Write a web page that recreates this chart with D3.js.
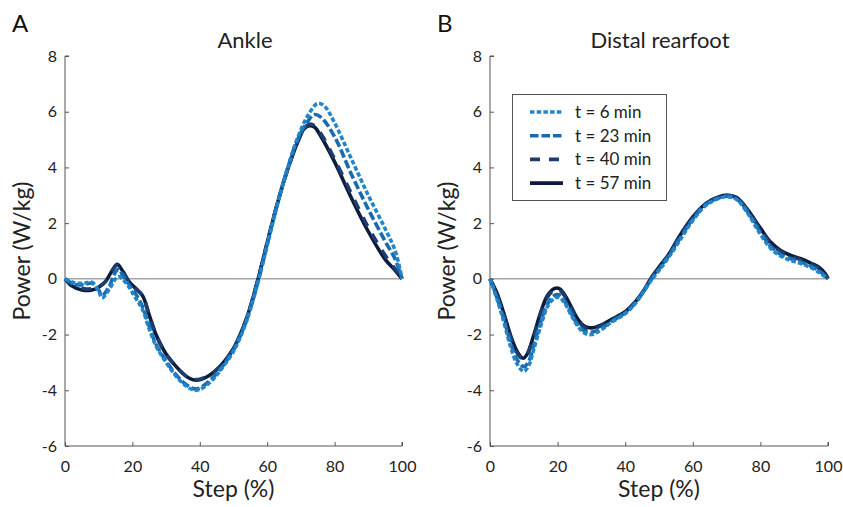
<!DOCTYPE html>
<html>
<head>
<meta charset="utf-8">
<script src="https://cdn.jsdelivr.net/npm/d3@7"></script>
<style>
body{margin:0;background:#fff;}
svg{display:block;font-family:Lato,"Open Sans",sans-serif;}
</style>
</head>
<body>
<svg id="chart" width="843" height="507"></svg>
<script>
const seriesNames = ["t = 6 min","t = 23 min","t = 40 min","t = 57 min"];
const seriesColors = ["#2185cb","#1a6aae","#1d3d6e","#0d1b3d"];
const seriesDash = ["4.5,2.2","8.5,3","10,9",null];
const xTicks = [0,20,40,60,80,100];
const yTicks = [-6,-4,-2,0,2,4,6,8];
const panelTitles = ["Ankle","Distal rearfoot"];
const panelLetters = ["A","B"];

// Ankle panel values [step %, power W/kg]
const ankle6 = [[0,0],[3,-0.15],[6,-0.15],[8,-0.12],[10,-0.45],[11,-0.68],[13,-0.4],[15,0],[16,0.08],[17,0],[19,-0.3],[21,-0.7],[23,-1.1],[25,-1.8],[27,-2.4],[30,-3.0],[33,-3.5],[36,-3.85],[38.5,-4.0],[40,-3.97],[43,-3.72],[46,-3.3],[50,-2.6],[53,-1.8],[55,-1.1],[57.5,0],[60,1.2],[63,2.65],[66,3.95],[69,5.05],[72,5.85],[75,6.3],[77,6.2],[80,5.6],[85,4.3],[90,3.0],[95,1.8],[98,1.0],[100,0]];
const ankle23 = [[0,0],[3,-0.2],[6,-0.2],[8,-0.15],[10,-0.4],[11,-0.6],[13,-0.3],[15,0.25],[16,0.35],[17,0.15],[19,-0.2],[21,-0.55],[23,-1.0],[25,-1.7],[27,-2.35],[30,-2.95],[33,-3.45],[36,-3.8],[38.5,-3.95],[40,-3.92],[43,-3.65],[46,-3.25],[50,-2.55],[53,-1.75],[55,-1.05],[57.5,0],[60,1.25],[63,2.7],[66,3.95],[69,5.0],[72,5.65],[74,5.9],[76,5.8],[80,5.1],[85,3.75],[90,2.5],[95,1.35],[98,0.7],[100,0]];
const ankle40 = [[0,0],[2,-0.2],[5,-0.35],[8,-0.35],[10,-0.28],[12,-0.1],[14,0.3],[15.5,0.5],[17,0.3],[19,-0.1],[21,-0.35],[23,-0.6],[25,-1.3],[27,-2.0],[30,-2.7],[33,-3.15],[36,-3.5],[38,-3.6],[40,-3.6],[43,-3.45],[46,-3.15],[50,-2.5],[53,-1.7],[55,-1.0],[57.3,0],[60,1.3],[63,2.7],[66,3.9],[69,4.9],[71,5.4],[72.5,5.55],[74,5.5],[76,5.2],[80,4.3],[85,3.05],[90,1.85],[95,0.85],[98,0.35],[100,0]];
const ankle57 = [[0,0],[2,-0.25],[5,-0.4],[8,-0.4],[10,-0.3],[12,-0.1],[14,0.3],[15.5,0.52],[17,0.3],[19,-0.1],[21,-0.35],[23,-0.6],[25,-1.3],[27,-2.0],[30,-2.7],[33,-3.15],[36,-3.5],[38,-3.62],[40,-3.62],[43,-3.45],[46,-3.15],[50,-2.5],[53,-1.7],[55,-1.0],[57.3,0],[60,1.3],[63,2.7],[66,3.9],[69,4.9],[71,5.4],[72.5,5.5],[74,5.45],[76,5.1],[80,4.2],[85,2.9],[90,1.7],[95,0.7],[98,0.3],[100,0]];

// Distal rearfoot panel values [step %, power W/kg]
const rear6 = [[0,0],[2,-0.7],[4,-1.5],[6,-2.4],[8,-3.05],[10,-3.32],[11.5,-3.1],[13,-2.5],[15,-1.7],[17,-1.0],[19,-0.7],[20.5,-0.67],[22,-0.85],[24,-1.3],[26,-1.7],[28,-1.95],[30,-2.0],[33,-1.82],[36,-1.55],[40,-1.25],[43,-0.88],[45.5,-0.45],[48,0],[50.5,0.38],[53,0.8],[56,1.35],[60,2.1],[64,2.65],[68,2.9],[70,2.95],[73,2.85],[76,2.4],[80,1.6],[83,1.1],[86,0.82],[89,0.66],[92,0.55],[95,0.4],[97.5,0.22],[100,0]];
const rear23 = [[0,0],[2,-0.65],[4,-1.4],[6,-2.25],[8,-2.9],[10,-3.15],[11.5,-2.95],[13,-2.35],[15,-1.55],[17,-0.9],[19,-0.6],[20.5,-0.58],[22,-0.78],[24,-1.22],[26,-1.65],[28,-1.88],[30,-1.92],[33,-1.78],[36,-1.52],[40,-1.22],[43,-0.86],[45.5,-0.44],[47.8,0],[50.3,0.4],[53,0.85],[56,1.42],[60,2.15],[64,2.68],[68,2.92],[70,2.97],[73,2.87],[76,2.45],[80,1.68],[83,1.18],[86,0.88],[89,0.72],[92,0.6],[95,0.45],[97.5,0.28],[100,0]];
const rear40 = [[0,0],[2,-0.55],[4,-1.25],[6,-2.05],[8,-2.65],[9.8,-2.88],[11,-2.72],[13,-2.05],[15,-1.25],[17,-0.65],[19,-0.4],[20.5,-0.4],[22,-0.6],[24,-1.05],[26,-1.5],[28,-1.75],[30,-1.8],[33,-1.68],[36,-1.47],[40,-1.2],[43,-0.83],[45.5,-0.42],[47.6,0],[50,0.4],[53,0.88],[56,1.5],[60,2.2],[64,2.7],[68,2.95],[70,3.0],[73,2.9],[76,2.5],[80,1.78],[83,1.28],[86,0.98],[89,0.8],[92,0.68],[95,0.52],[97.5,0.36],[99.2,0.15],[100,0]];
const rear57 = [[0,0],[2,-0.5],[4,-1.2],[6,-2.0],[8,-2.6],[9.8,-2.85],[11,-2.7],[13,-2.0],[15,-1.2],[17,-0.6],[19,-0.35],[20.5,-0.35],[22,-0.55],[24,-1.0],[26,-1.45],[28,-1.7],[30,-1.76],[33,-1.65],[36,-1.45],[40,-1.18],[43,-0.82],[45.5,-0.42],[47.5,0],[50,0.42],[53,0.9],[56,1.52],[60,2.22],[64,2.72],[68,2.96],[70,3.0],[73,2.92],[76,2.52],[80,1.82],[83,1.32],[86,1.02],[89,0.84],[92,0.72],[95,0.56],[97.5,0.4],[99.2,0.18],[100,0]];

const panelData = [[ankle6,ankle23,ankle40,ankle57],[rear6,rear23,rear40,rear57]];

const svg = d3.select("#chart");
const panels = [{x0:65,x1:402},{x0:490,x1:828}];
const yTop = 56, yBot = 446;
const fmt = d => String(d);

panels.forEach((p,pi)=>{
  const x = d3.scaleLinear().domain([0,100]).range([p.x0,p.x1]);
  const y = d3.scaleLinear().domain([-6,8]).range([yBot,yTop]);
  const g = svg.append("g");

  const yAx = g.append("g").attr("transform",`translate(${p.x0},0)`)
    .call(d3.axisRight(y).tickValues(yTicks).tickSize(4).tickFormat(fmt));
  yAx.select(".domain").attr("stroke","#555").attr("d",`M4,${yTop}H0V${yBot}`);
  yAx.selectAll(".tick line").attr("stroke","#555");
  yAx.selectAll(".tick text").attr("x",-8).attr("text-anchor","end").attr("font-size",16).attr("fill","#222")
    .attr("font-family","Lato,sans-serif");

  const xAx = g.append("g").attr("transform",`translate(0,${yBot})`)
    .call(d3.axisTop(x).tickValues(xTicks).tickSize(4).tickFormat(fmt));
  xAx.select(".domain").attr("stroke","#555").attr("d",`M${p.x0},0H${p.x1}V-4`);
  xAx.selectAll(".tick line").attr("stroke","#555");
  xAx.selectAll(".tick text").attr("y",21).attr("dy","0.32em").attr("font-size",16).attr("fill","#222")
    .attr("font-family","Lato,sans-serif");

  g.append("line").attr("x1",x(0)).attr("x2",x(100)).attr("y1",y(0)).attr("y2",y(0))
    .attr("stroke","#777").attr("stroke-width",1);

  const line = d3.line().x(d=>x(d[0])).y(d=>y(d[1])).curve(d3.curveCatmullRom.alpha(0.5));
  [3,2,1,0].forEach(si=>{
    g.append("path").datum(panelData[pi][si])
      .attr("d",line).attr("fill","none")
      .attr("stroke",seriesColors[si]).attr("stroke-width",3.6)
      .attr("stroke-dasharray",seriesDash[si]);
  });

  g.append("text").attr("x",(p.x0+p.x1)/2).attr("y",497).attr("text-anchor","middle")
    .attr("font-size",23).attr("fill","#222").text("Step (%)");
  g.append("text").attr("transform",`translate(${p.x0-43},${(yTop+yBot)/2}) rotate(-90)`)
    .attr("text-anchor","middle").attr("dy","0.35em").attr("font-size",23).attr("fill","#222").text("Power (W/kg)");
  g.append("text").attr("x",pi===0?245:660).attr("y",48).attr("text-anchor","middle")
    .attr("font-size",22).attr("fill","#222").text(panelTitles[pi]);
  g.append("text").attr("x",p.x0-53).attr("y",32).attr("font-size",24).attr("fill","#111").text(panelLetters[pi]);
});

const lg = svg.append("g");
lg.append("rect").attr("x",512.5).attr("y",94.5).attr("width",154).attr("height",106)
  .attr("fill","#fff").attr("stroke","#555").attr("stroke-width",1);
seriesNames.forEach((n,i)=>{
  const yy = 112 + i*23.7;
  lg.append("line").attr("x1",530).attr("x2",563).attr("y1",yy).attr("y2",yy)
    .attr("stroke",seriesColors[i]).attr("stroke-width",3.6).attr("stroke-dasharray",seriesDash[i]);
  lg.append("text").attr("x",575).attr("y",yy).attr("dy","0.35em").attr("font-size",17)
    .attr("fill","#222").text(n);
});
</script>
</body>
</html>
